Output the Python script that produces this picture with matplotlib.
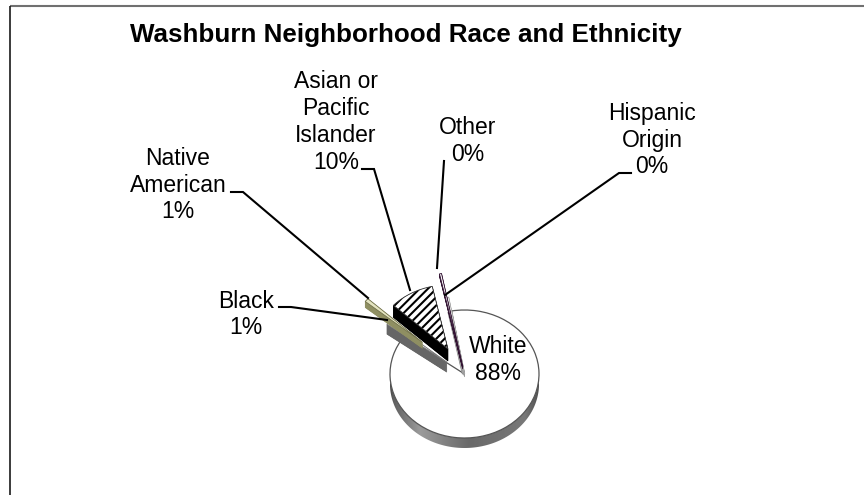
import numpy as np
import matplotlib
matplotlib.use("Agg")
import matplotlib.pyplot as plt
from matplotlib.patches import Wedge, Polygon

plt.rcParams['font.family'] = ['Liberation Sans', 'DejaVu Sans']
plt.rcParams['hatch.linewidth'] = 1.5

categories = ['White', 'Black', 'Native American', 'Asian or Pacific Islander', 'Other', 'Hispanic Origin']
values = [87.9, 0.9, 0.9, 9.7, 0.3, 0.3]
percent_labels = ['88%', '1%', '1%', '10%', '0%', '0%']

START_ANGLE = 100.0
W, H = 864, 495
CX, CY, RX, RY = 464.5, 374.0, 74.5, 64.0

fig = plt.figure(figsize=(W / 100, H / 100), dpi=100, facecolor='white')
ax = fig.add_axes([0, 0, 1, 1], zorder=1)
ax.axis('off')
ov = fig.add_axes([0, 0, 1, 1], zorder=2)
ov.set_xlim(0, W)
ov.set_ylim(H, 0)
ov.axis('off')
ov.patch.set_alpha(0)

# slice styling: explode, radius, depth (px), face, side, edge, hatch
styles = {
    'White': dict(ex=0.0, r=1.0, d=10, face='white', side=None, edge='#555555', hatch=None),
    'Black': dict(ex=0.30, r=1.0, d=10, face='#f0f0f0', side='#666666', edge='#777777', hatch=None),
    'Native American': dict(ex=0.75, r=1.0, d=6, face='#e4e4c0', side='#8f8f62', edge='#70704a', hatch=None),
    'Asian or Pacific Islander': dict(ex=0.45, r=1.0, d=12, face='white', side='black', edge='#333333', hatch='////'),
    'Other': dict(ex=0.12, r=1.48, d=2.5, face='white', side='#301030', edge='#301030', hatch=None),
    'Hispanic Origin': dict(ex=0.0, r=1.22, d=3, face='white', side='#999999', edge='#aaaaaa', hatch=None),
}

total = sum(values)
spans = []
a = START_ANGLE
for v in values:
    b = a - 360.0 * v / total
    spans.append((b, a))
    a = b

# white pie outer wall with a horizontal gradient
th = np.radians(np.linspace(180, 360, 200))
dy = styles['White']['d'] / RY
top = np.c_[np.cos(th), np.sin(th)]
low = (top - [0, dy])[::-1]
wall = Polygon(np.r_[top, low], closed=True, transform=ax.transData, fc='none', ec='none')
ax.add_patch(wall)
grad_x = np.array([-1.0, -0.96, -0.6, 0.05, 0.8, 0.97, 1.0])
grad_v = np.array([70, 95, 155, 105, 120, 85, 60]) / 255
xs = np.linspace(-1, 1, 256)
im = ax.imshow(np.interp(xs, grad_x, grad_v)[None, :], extent=(-1, 1, -1 - dy, 0), cmap='gray',
               vmin=0, vmax=1, aspect='auto', zorder=1)
im.set_clip_path(wall)
ax.set_xlim(-CX / RX, (W - CX) / RX)
ax.set_ylim((CY - H) / RY, CY / RY)


def tip_of(name, span):
    mid = np.radians((span[0] + span[1]) / 2)
    e = styles[name]['ex']
    return e * np.cos(mid), e * np.sin(mid)


# interior cut wall of the white slice
t0 = np.radians(START_ANGLE)
ax.add_patch(Polygon([(0, 0), (np.cos(t0), np.sin(t0)), (np.cos(t0) - 0.05, np.sin(t0) - 0.02),
                      (-0.03, 0.0)], closed=True, fc='#a8a8a8', ec='#888888', lw=0.5, zorder=3))
ax.add_patch(Wedge((0, 0), 1.0, spans[0][0], spans[0][1], fc='white', ec='#555555', lw=0.9, zorder=2))

order = ['Hispanic Origin', 'Other', 'Asian or Pacific Islander', 'Black', 'Native American']
for i, name in enumerate(order):
    s = styles[name]
    sp = spans[categories.index(name)]
    tx, ty = tip_of(name, sp)
    z = 4 + i
    for k in np.arange(s['d'], 0, -0.5):
        ax.add_patch(Wedge((tx, ty - k / RY), s['r'], sp[0], sp[1], fc=s['side'], ec=s['side'], lw=0.5, zorder=z))
    if s['hatch']:
        ax.add_patch(Wedge((tx, ty), s['r'], sp[0], sp[1], fc='white', ec='black', lw=0, hatch=s['hatch'], zorder=z))
        ax.add_patch(Wedge((tx, ty), s['r'], sp[0], sp[1], fc='none', ec=s['edge'], lw=0.6, zorder=z))
    else:
        ax.add_patch(Wedge((tx, ty), s['r'], sp[0], sp[1], fc=s['face'], ec=s['edge'], lw=0.6, zorder=z))

# frame
ov.plot([W, 9.5], [6, 6], color='#707070', lw=1.5, solid_capstyle='butt')
ov.plot([9.5, 9.5], [H, 5.5], color='#1a1a1a', lw=1.2, solid_capstyle='butt')

# title
ov.text(405.5, 35, 'Washburn Neighborhood Race and Ethnicity', ha='center', va='center',
        fontsize=18.7, fontweight='bold', color='black')

# labels and leaders
FS = 16.5
wrapped = {
    'White': 'White',
    'Black': 'Black',
    'Native American': 'Native\nAmerican',
    'Asian or Pacific Islander': 'Asian or\nPacific\nIslander',
    'Other': 'Other',
    'Hispanic Origin': 'Hispanic\nOrigin',
}
label_pos = {
    'White': (498, 360),
    'Black': (246, 314.5),
    'Native American': (178, 185),
    'Asian or Pacific Islander': (336, 122),
    'Other': (468, 141),
    'Hispanic Origin': (652, 140),
}
leaders = {
    'Black': [(279, 307), (291, 307), (387, 320)],
    'Native American': [(231, 192), (243, 192), (368, 298)],
    'Asian or Pacific Islander': [(362, 169), (374, 169), (410, 290)],
    'Other': [(444, 161), (437, 268)],
    'Hispanic Origin': [(631, 173), (619, 173), (445, 295)],
}
for name, pct in zip(categories, percent_labels):
    x, y = label_pos[name]
    ov.text(x, y, wrapped[name] + '\n' + pct, ha='center', va='center', fontsize=FS,
            color='black', linespacing=1.22)
for pts in leaders.values():
    p = np.array(pts)
    ov.plot(p[:, 0], p[:, 1], color='black', lw=1.5, solid_joinstyle='miter', zorder=3)

fig.savefig('out.png', dpi=100, facecolor='white')
